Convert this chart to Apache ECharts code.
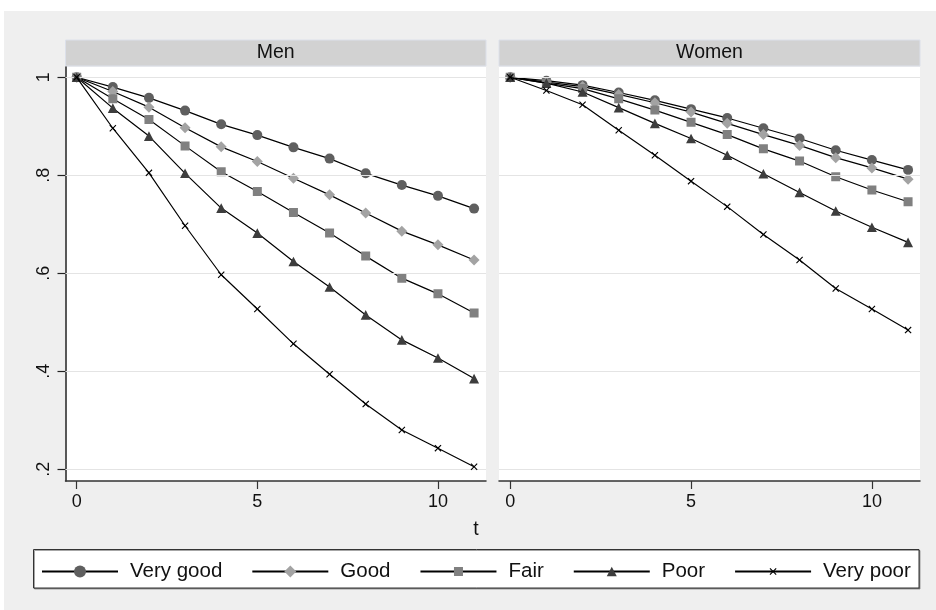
<!DOCTYPE html>
<html>
<head>
<meta charset="utf-8">
<script src="https://cdn.jsdelivr.net/npm/echarts@6/dist/echarts.min.js"></script>
<style>html,body{margin:0;padding:0;background:#fff}#c{width:936px;height:610px}</style>
</head>
<body>
<div id="c"></div>
<script>
var t = [0,1,2,3,4,5,6,7,8,9,10,11];
var categories = ['Very good','Good','Fair','Poor','Very poor'];
var panels = ['Men','Women'];
var xTicks = [0,5,10];
var yTicks = [0.2,0.4,0.6,0.8,1];

var menVeryGood = [1,0.980,0.958,0.932,0.904,0.882,0.857,0.834,0.804,0.780,0.758,0.732];
var menGood     = [1,0.971,0.939,0.897,0.858,0.828,0.794,0.760,0.723,0.686,0.658,0.627];
var menFair     = [1,0.956,0.914,0.860,0.807,0.767,0.724,0.682,0.635,0.590,0.558,0.519];
var menPoor     = [1,0.937,0.880,0.804,0.733,0.682,0.624,0.572,0.515,0.464,0.427,0.385];
var menVeryPoor = [1,0.896,0.805,0.697,0.597,0.527,0.456,0.394,0.333,0.280,0.243,0.205];

var womenVeryGood = [1,0.993,0.984,0.969,0.953,0.935,0.917,0.896,0.875,0.851,0.831,0.811];
var womenGood     = [1,0.990,0.981,0.965,0.948,0.929,0.906,0.883,0.861,0.836,0.815,0.792];
var womenFair     = [1,0.988,0.977,0.956,0.933,0.908,0.883,0.854,0.829,0.797,0.770,0.746];
var womenPoor     = [1,0.988,0.970,0.938,0.906,0.875,0.841,0.803,0.765,0.727,0.694,0.663];
var womenVeryPoor = [1,0.973,0.944,0.892,0.841,0.788,0.736,0.679,0.627,0.569,0.527,0.484];

var menData = [menVeryGood, menGood, menFair, menPoor, menVeryPoor];
var womenData = [womenVeryGood, womenGood, womenFair, womenPoor, womenVeryPoor];

var FONT = '"Liberation Sans", Arial, Helvetica, sans-serif';
// symbol paths padded inside a 12x12 box (tiny corner specks fix the box)
var PAD = ' M0,0 L0.01,0 L0,0.01 Z M12,12 L11.99,12 L12,11.99 Z';
var squarePath = 'path://M1.5,1.5 L10.5,1.5 L10.5,10.5 L1.5,10.5 Z' + PAD;
var trianglePath = 'path://M6,1.2 L11,10.8 L1,10.8 Z' + PAD;
var xPath = 'path://M2.5,3.3 L3.3,2.5 L6,5.2 L8.7,2.5 L9.5,3.3 L6.8,6 L9.5,8.7 L8.7,9.5 L6,6.8 L3.3,9.5 L2.5,8.7 L5.2,6 Z' + PAD;
var styles = [
  {symbol:'circle', size:10, color:'#5f5f5f'},
  {symbol:'diamond', size:11, color:'#a3a3a3'},
  {symbol:squarePath, size:12, color:'#808080'},
  {symbol:trianglePath, size:12, color:'#3d3d3d'},
  {symbol:xPath, size:12, color:'#000000'}
];

function pairs(vals){ return t.map(function(x,i){ return [x, vals[i]]; }); }

var series = [];
[menData, womenData].forEach(function(panel, p){
  series.push({
    type:'line', name:'_grid'+p, xAxisIndex:p, yAxisIndex:p, data:[], z:1, silent:true,
    markLine:{
      silent:true, symbol:['none','none'], label:{show:false},
      lineStyle:{color:'#e4e4e4', type:'solid', width:1},
      data: yTicks.map(function(v){ return {yAxis:v}; }),
      animation:false
    }
  });
  panel.forEach(function(vals, i){
    var s = styles[i];
    series.push({
      type:'line', name:categories[i], xAxisIndex:p, yAxisIndex:p,
      data:pairs(vals), symbol:s.symbol, symbolSize:s.size, showAllSymbol:true,
      lineStyle:{color:'#000', width:1.2},
      itemStyle:{color:s.color, borderWidth:0},
      emphasis:{disabled:true}, z: 2 + i, animation:false
    });
  });
});

function xAxis(idx){
  return {
    gridIndex:idx, type:'value', min:-0.31, max:11.33,
    axisLine:{show:true, onZero:false, lineStyle:{color:'#333', width:1.5}},
    axisTick:{show:true, length:8, customValues:xTicks, lineStyle:{color:'#333', width:1.2}},
    axisLabel:{customValues:xTicks, fontSize:18, color:'#111', margin:12, fontFamily:FONT},
    splitLine:{show:false}
  };
}
function yAxis(idx, show){
  return {
    gridIndex:idx, type:'value', min:0.176, max:1.021, show:show,
    axisLine:{show:true, onZero:false, lineStyle:{color:'#222', width:1.5}},
    axisTick:{show:true, length:8, customValues:yTicks, lineStyle:{color:'#222', width:1.2}},
    axisLabel:{customValues:yTicks, fontSize:18, color:'#111', margin:12, rotate:90, fontFamily:FONT,
      formatter:function(v){ return v===1 ? '1' : String(+v.toFixed(2)).replace(/^0/, ''); }},
    splitLine:{show:false}
  };
}

var option = {
  backgroundColor:'#efefef',
  animation:false,
  textStyle:{fontFamily:FONT},
  grid:[
    {left:65.5, top:67, width:420.5, height:414, show:true, backgroundColor:'#fff', borderWidth:0},
    {left:499, top:67, width:421, height:414, show:true, backgroundColor:'#fff', borderWidth:0}
  ],
  xAxis:[xAxis(0), xAxis(1)],
  yAxis:[yAxis(0,true), yAxis(1,false)],
  legend:{
    data:categories, left:41, top:561, padding:0, itemGap:29,
    itemWidth:76, itemHeight:15, selectedMode:false,
    textStyle:{fontSize:20.5, color:'#111', fontFamily:FONT, padding:[0,0,0,7]}
  },
  graphic:[
    {type:'rect', shape:{x:0,y:0,width:936,height:11}, style:{fill:'#fff'}, silent:true},
    {type:'rect', shape:{x:0,y:0,width:4,height:610}, style:{fill:'#fff'}, silent:true},
    {type:'rect', shape:{x:65.5,y:40,width:420.5,height:26}, style:{fill:'#d2d2d2', stroke:'#dce0ea', lineWidth:1}, silent:true},
    {type:'rect', shape:{x:499,y:40,width:421,height:26}, style:{fill:'#d2d2d2', stroke:'#dce0ea', lineWidth:1}, silent:true},
    {type:'text', x:275.75, y:53, style:{text:panels[0], fill:'#111', font:'19.5px '+FONT, textAlign:'center', textVerticalAlign:'middle'}, silent:true},
    {type:'text', x:709.5, y:53, style:{text:panels[1], fill:'#111', font:'19.5px '+FONT, textAlign:'center', textVerticalAlign:'middle'}, silent:true},
    {type:'text', x:476, y:530, style:{text:'t', fill:'#111', font:'19.5px '+FONT, textAlign:'center', textVerticalAlign:'middle'}, silent:true},
    {type:'rect', shape:{x:33.5,y:549.5,width:885.5,height:38.5}, style:{fill:'#fff', stroke:'#333', lineWidth:1, shadowColor:'rgba(0,0,0,0.35)', shadowOffsetX:1, shadowOffsetY:1, shadowBlur:0}, silent:true}
  ],
  series:series
};
var chart = echarts.init(document.getElementById('c'), null, {renderer:'canvas'});
chart.setOption(option);
</script>
</body>
</html>
